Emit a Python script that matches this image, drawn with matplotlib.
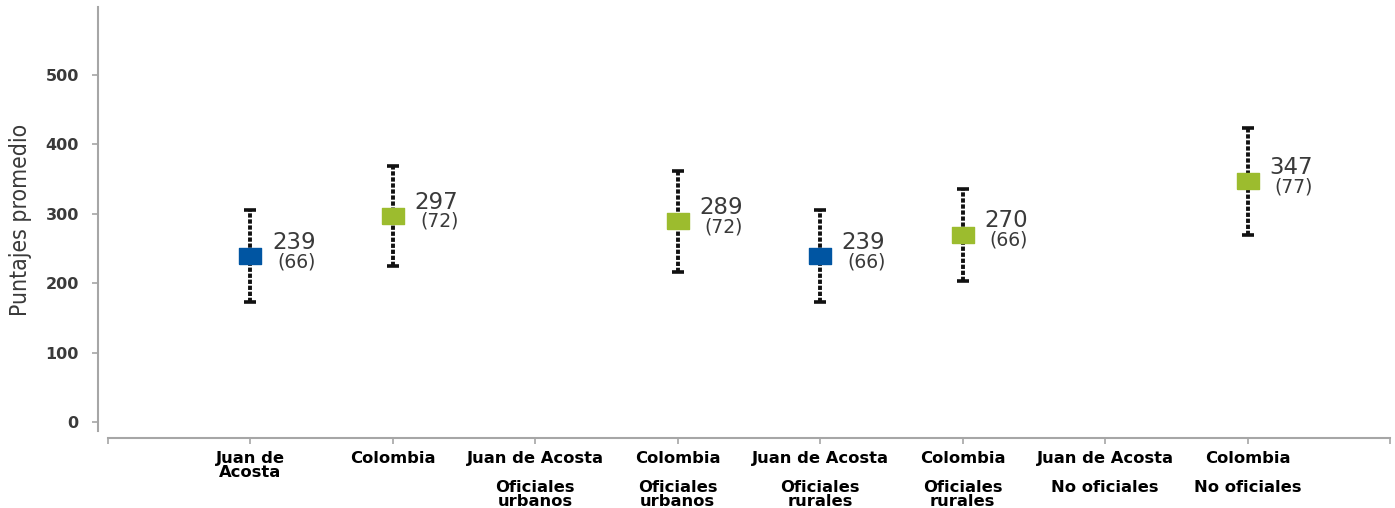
import numpy as np
import matplotlib.pyplot as plt
from matplotlib import transforms

# data
categories = ["Juan de\nAcosta", "Colombia", "Juan de Acosta", "Colombia",
              "Juan de Acosta", "Colombia", "Juan de Acosta", "Colombia"]
groups = ["", "", "Oficiales\nurbanos", "Oficiales\nurbanos",
          "Oficiales\nrurales", "Oficiales\nrurales", "No oficiales", "No oficiales"]
means = [239, 297, None, 289, 239, 270, None, 347]
sds = [66, 72, None, 72, 66, 66, None, 77]
is_colombia = [False, True, False, True, False, True, False, True]

blue = '#0055a2'
green = '#9cbc2e'
grey = '#a6a6a6'
txt = '#3a3a3a'

fig = plt.figure(figsize=(13.95, 5.08), dpi=100)
W, H = 1395., 508.
ax = fig.add_axes([108 / W, (H - 437.5) / H, (1390 - 108) / W, (437.5 - 7) / H])

# px per unit ~0.6953
ax.set_ylim(-21.7, 597.5)
ax.set_xlim(-1, 8)

# rectangular marker (wider than tall)
rect = [(-1, -0.68), (1, -0.68), (1, 0.68), (-1, 0.68), (-1, -0.68)]

for i, (m, s) in enumerate(zip(means, sds)):
    if m is None:
        continue
    col = green if is_colombia[i] else blue
    eb = ax.errorbar(i, m, yerr=s, fmt='none', ecolor='#111111', elinewidth=2.8,
                     capsize=4.3, capthick=2.6, zorder=2)
    eb[2][0].set_linestyle((0, (1.1, 0.45)))
    ax.plot(i, m, marker=rect, markersize=16, color=col, markeredgecolor=col,
            linestyle='none', zorder=3)
    ax.annotate(str(m), (i, m), xytext=(15.5, 10), textcoords='offset points',
                fontsize=16.5, color=txt, va='center', ha='left')
    ax.annotate("(%d)" % s, (i, m), xytext=(19.5, -4), textcoords='offset points',
                fontsize=13.5, color=txt, va='center', ha='left')

# spines
for sp in ['top', 'right']:
    ax.spines[sp].set_visible(False)
ax.spines['left'].set_position(('outward', 7))
ax.spines['left'].set_bounds(-12.8, 597.5)
ax.spines['left'].set_color(grey)
ax.spines['left'].set_linewidth(1.5)
ax.spines['bottom'].set_color(grey)
ax.spines['bottom'].set_linewidth(1.5)

ax.set_yticks([0, 100, 200, 300, 400, 500])
ax.tick_params(axis='y', length=4, width=1.2, color=grey, labelsize=11.5,
               labelcolor=txt, pad=10)
for lab in ax.get_yticklabels():
    lab.set_fontweight('bold')

ax.set_xticks(np.arange(-1, 9))
ax.set_xticklabels([])
ax.tick_params(axis='x', length=4, width=1.2, color=grey)

# category labels and group labels below axis
tr = transforms.blended_transform_factory(ax.transData, fig.transFigure)
for i, (c, g) in enumerate(zip(categories, groups)):
    ax.text(i, (H - 451) / H, c, transform=tr, ha='center', va='top',
            fontsize=11.8, fontweight='bold', color='black', linespacing=0.9)
    if g:
        ax.text(i, (H - 480) / H, g, transform=tr, ha='center', va='top',
                fontsize=11.8, fontweight='bold', color='black', linespacing=0.9)

fig.text(21 / W, (H - 220) / H, "Puntajes promedio", rotation=90,
         ha='center', va='center', fontsize=16.5, color=txt,
         family='DejaVu Sans', fontstretch='condensed')

fig.savefig('out.png', dpi=100)
